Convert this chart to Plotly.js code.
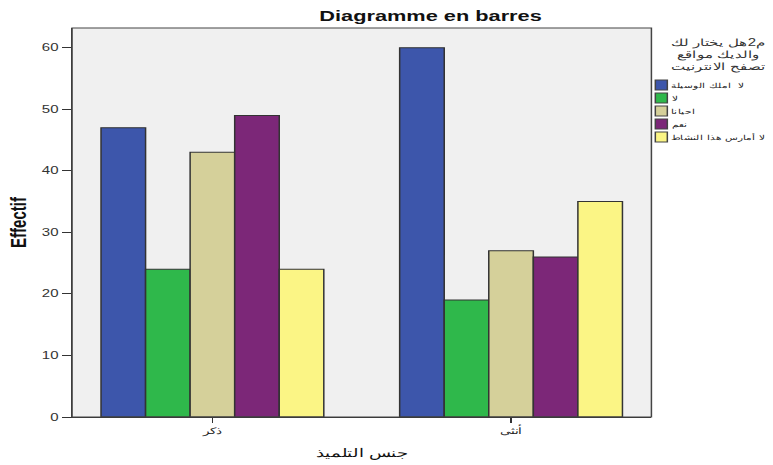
<!DOCTYPE html>
<html><head><meta charset="utf-8">
<script src="https://cdn.plot.ly/plotly-3.0.1.min.js"></script>
<style>
body{margin:0;background:#fff}
#wrap{width:773px;height:465px;overflow:hidden;background:#fff}
#c{width:515px;height:465px;transform:scaleX(1.50097);transform-origin:0 0}
</style>
</head><body><div id="wrap"><div id="c"></div></div>
<script>
// Data
const categories = ["ذكر", "أنثى"];
const seriesNames = ["لا  املك الوسيلة", "لا", "احيانا", "نعم", "لا أمارس هذا النشاط"];
const s1 = [47, 60];
const s2 = [24, 19];
const s3 = [43, 27];
const s4 = [49, 26];
const s5 = [24, 35];
const legendTitleLines = ["م2هل يختار لك", "والديك مواقع", "تصفح الانترنيت"];
const allValues = [s1, s2, s3, s4, s5];

// Styles
const colors = ["#3d56ab", "#2fb84b", "#d5d09a", "#7c2778", "#fbf585"];
const W = 515, H = 465;
const M = {l: 48, r: 81, t: 28, b: 48};
const PW = W - M.l - M.r, PH = H - M.t - M.b;
const px2x = p => (p - M.l) / PW;
const py2y = p => (H - M.b - p) / PH;

const traces = allValues.map((v, i) => ({
  type: "bar", x: categories, y: v, name: seriesNames[i],
  marker: {color: colors[i], line: {color: "#333333", width: 1}}
}));

const shapes = [
  {type: "rect", xref: "paper", yref: "paper", x0: 0, x1: 1, y0: 0, y1: 1, line: {color: "#444", width: 1}}
];
const annotations = [];
legendTitleLines.forEach((t, k) => {
  annotations.push({xref: "paper", yref: "paper", x: px2x(478.5), y: py2y(43 + 12 * k),
    xanchor: "center", yanchor: "middle", showarrow: false, text: t, font: {size: 10, color: "#333"}});
});
seriesNames.forEach((n, i) => {
  const cy = 85 + 13 * i;
  shapes.push({type: "rect", xref: "paper", yref: "paper",
    x0: px2x(436.6), x1: px2x(444.6), y0: py2y(cy + 5), y1: py2y(cy - 5),
    fillcolor: colors[i], line: {color: "#444", width: 1}});
  annotations.push({xref: "paper", yref: "paper", x: px2x(445.6), y: py2y(cy),
    xanchor: "left", yanchor: "middle", showarrow: false, text: n, font: {size: 7.4, color: "#222"}});
});

const layout = {
  width: W, height: H,
  margin: {l: M.l, r: M.r, t: M.t, b: M.b, autoexpand: false},
  paper_bgcolor: "#ffffff", plot_bgcolor: "#f0f0f0",
  font: {family: "Liberation Sans, Arial, sans-serif", color: "#000"},
  title: {text: "<b>Diagramme en barres</b>", font: {size: 14.5, color: "#111"},
    x: 0.557, xanchor: "center", xref: "container", y: 0.966, yanchor: "middle", yref: "container"},
  bargap: 0.254, bargroupgap: 0, barmode: "group",
  showlegend: false,
  xaxis: {
    type: "category", range: [-0.47, 1.47], showgrid: false, zeroline: false,
    showline: true, linecolor: "#333", ticks: "outside", ticklen: 5, tickcolor: "#333",
    tickfont: {size: 9, color: "#222"},
    title: {text: "جنس التلميذ", font: {size: 12, color: "#111"}, standoff: 12}
  },
  yaxis: {
    range: [0, 63.2], dtick: 10, showgrid: false, zeroline: false,
    showline: true, linecolor: "#333", ticks: "outside", ticklen: 6, tickcolor: "#333",
    tickfont: {size: 10, color: "#333"},
    title: {text: "<b>Effectif</b>", font: {size: 15, color: "#111"}, standoff: 6}
  },
  shapes: shapes,
  annotations: annotations
};

Plotly.newPlot("c", traces, layout, {displayModeBar: false, staticPlot: true});
</script></body></html>
